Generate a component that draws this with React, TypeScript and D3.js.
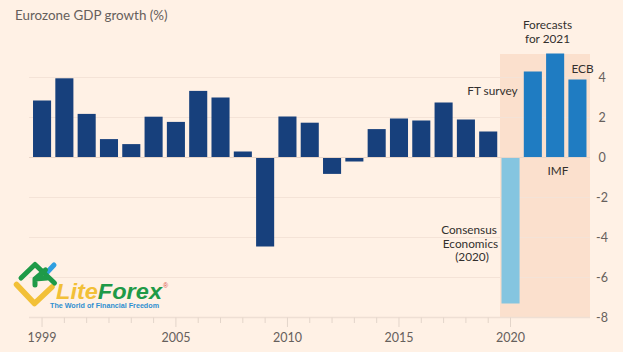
import React from "react";
import * as d3 from "d3";

const years = ["1999","2000","2001","2002","2003","2004","2005","2006","2007","2008","2009","2010","2011","2012","2013","2014","2015","2016","2017","2018","2019","2020","FT","IMF","ECB"];
const growth = [2.85,3.96,2.18,0.92,0.67,2.04,1.78,3.33,3.0,0.3,-4.45,2.05,1.74,-0.82,-0.2,1.42,1.95,1.85,2.75,1.9,1.3,-7.3,4.3,5.2,3.9];
const yTicks = [4,2,0,-2,-4,-6,-8];
const xLabels = ["1999","2005","2010","2015","2020"];
const tickYears = years.slice(0,22);

const W = 623, H = 352;
const font = "Lato, 'Open Sans', sans-serif";
const x = d3.scaleBand<string>().domain(years).range([30.9, 588.6]).paddingInner(0.19).paddingOuter(0.095);
const y = d3.scaleLinear().domain([-8, 4]).range([317.5, 77.5]);
const color = (k: string) => k === "2020" ? "#85c5e0" : ["FT","IMF","ECB"].includes(k) ? "#1f7cc2" : "#17407c";

export default function App() {
  return (
    <svg width={W} height={H} style={{position:"absolute",left:0,top:0,background:"#fff1e5"}} fontFamily={font}>
      <rect x={0} y={0} width={W} height={H} fill="#fff1e5"/>
      <rect x={500} y={54} width={90} height={263.5} fill="#fbe0cd"/>
      {yTicks.filter(t=>t!==0&&t!==-8).map(t=>(
        <line key={t} x1={29} x2={590} y1={y(t)} y2={y(t)} stroke="#f4e3d7" strokeWidth={1}/>
      ))}
      {years.map((k,i)=>{
        const v = growth[i];
        return <rect key={k} x={x(k)} width={x.bandwidth()} y={y(Math.max(0,v))} height={Math.abs(y(v)-y(0))} fill={color(k)}/>;
      })}
      <line x1={29} x2={590} y1={y(0)} y2={y(0)} stroke="#e8d5c8" strokeWidth={1}/>
      <line x1={29} x2={590} y1={y(-8)} y2={y(-8)} stroke="#eedfd4" strokeWidth={1.5}/>
      {tickYears.map(k=>{
        const cx = (x(k) as number)+x.bandwidth()/2;
        return <line key={k} x1={cx} x2={cx} y1={317.5} y2={xLabels.includes(k)?327:323} stroke="#e3d5ca"/>;
      })}
      {xLabels.map(k=>(
        <text key={k} x={(x(k) as number)+x.bandwidth()/2} y={342} textAnchor="middle" fontSize={12.5} fill="#66605c">{k}</text>
      ))}
      {yTicks.map(t=>(
        <text key={t} x={602} y={y(t)+4.5} textAnchor="middle" fontSize={12.5} fill="#66605c">{t}</text>
      ))}
      <text x={15} y={19.5} fontSize={13.4} fill="#66605c">Eurozone GDP growth (%)</text>
      <g fontSize={11.8} fill="#33302e">
        <text x={547.5} y={29} textAnchor="middle">Forecasts</text>
        <text x={547.5} y={42.5} textAnchor="middle">for 2021</text>
        <text x={582.5} y={73} textAnchor="middle">ECB</text>
        <text x={492.5} y={94.5} textAnchor="middle">FT survey</text>
        <text x={558} y={174.5} textAnchor="middle">IMF</text>
        <text x={469} y={234} textAnchor="middle">Consensus</text>
        <text x={470.5} y={247.5} textAnchor="middle">Economics</text>
        <text x={472} y={261} textAnchor="middle">(2020)</text>
      </g>
      {/* logo */}
      <g fill="none" strokeLinecap="round" strokeLinejoin="round">
        <path d="M46.5 273 L54 265" stroke="#2f9fe0" strokeWidth={5}/>
        <path d="M16.5 284.5 L34.5 303.5 L52 287" stroke="#f2c037" strokeWidth={5.5}/>
        <path d="M21 278 L35 264.5 L54.5 283" stroke="#1f9a48" strokeWidth={5}/>
        <path d="M35 285 L35 279 L45.5 270 M35 279 L47 278" stroke="#1f9a48" strokeWidth={5}/>
      </g>
      <text x={56} y={299} fontFamily="'Liberation Sans', sans-serif" fontStyle="italic" fontWeight={700} fontSize={22.5} textLength={106} lengthAdjust="spacingAndGlyphs">
        <tspan fill="#f2c037">Lite</tspan><tspan fill="#1f9a48">Forex</tspan>
      </text>
      <text x={163} y={288} fontSize={7} fill="#d9534f" fontFamily="'Liberation Sans', sans-serif">®</text>
      <text x={50} y={307.5} fontFamily="'Liberation Sans', sans-serif" fontWeight={700} fontSize={8} fill="#2f8fd0" textLength={109} lengthAdjust="spacingAndGlyphs">The World of Financial Freedom</text>
    </svg>
  );
}
